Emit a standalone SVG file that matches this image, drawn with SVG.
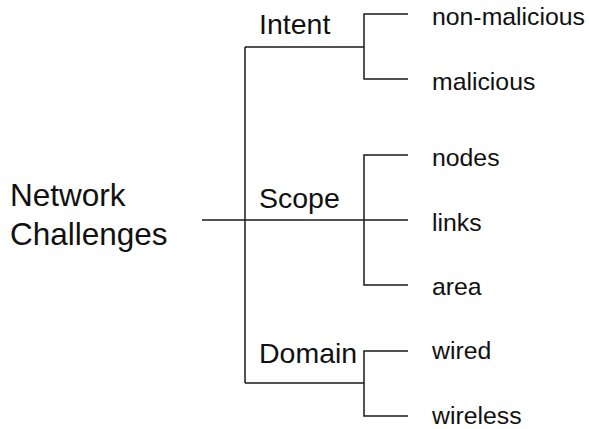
<svg xmlns="http://www.w3.org/2000/svg" width="589" height="429" viewBox="0 0 589 429">
  <style>
    .ln { stroke: #1a1a1a; stroke-width: 1.5; fill: none; }
    .root { font-family: "Liberation Sans", Arial, sans-serif; font-size: 31.5px; fill: #111; }
    .mid { font-family: "Liberation Sans", Arial, sans-serif; font-size: 28.5px; fill: #111; }
    .leaf { font-family: "Liberation Sans", Arial, sans-serif; font-size: 24.8px; fill: #111; }
  </style>
  <rect width="589" height="429" fill="#fff"/>

  <!-- tree connectors -->
  <g id="connectors">
    <!-- trunk and branches to the three categories -->
    <path class="ln" d="M245,47 V383"/>
    <path class="ln" d="M245,47 H364"/>
    <path class="ln" d="M202,220 H408"/>
    <path class="ln" d="M245,383 H364"/>
    <!-- Intent bracket -->
    <path class="ln" d="M408,14 H364 V79 H408"/>
    <!-- Scope bracket -->
    <path class="ln" d="M408,155 H364 V285 H408"/>
    <!-- Domain bracket -->
    <path class="ln" d="M408,351 H364 V416 H408"/>
  </g>

  <g id="root">
    <text class="root" x="10" y="206">Network</text>
    <text class="root" x="10" y="245">Challenges</text>
  </g>

  <g id="intent"><text class="mid" x="259" y="34">Intent</text></g>
  <g id="scope"><text class="mid" x="259" y="208">Scope</text></g>
  <g id="domain"><text class="mid" x="259" y="363">Domain</text></g>

  <g id="non-malicious"><text class="leaf" x="432" y="25">non-malicious</text></g>
  <g id="malicious"><text class="leaf" x="432" y="90">malicious</text></g>
  <g id="nodes"><text class="leaf" x="432" y="166">nodes</text></g>
  <g id="links"><text class="leaf" x="432" y="231">links</text></g>
  <g id="area"><text class="leaf" x="432" y="295">area</text></g>
  <g id="wired"><text class="leaf" x="432" y="359">wired</text></g>
  <g id="wireless"><text class="leaf" x="432" y="424">wireless</text></g>
</svg>
